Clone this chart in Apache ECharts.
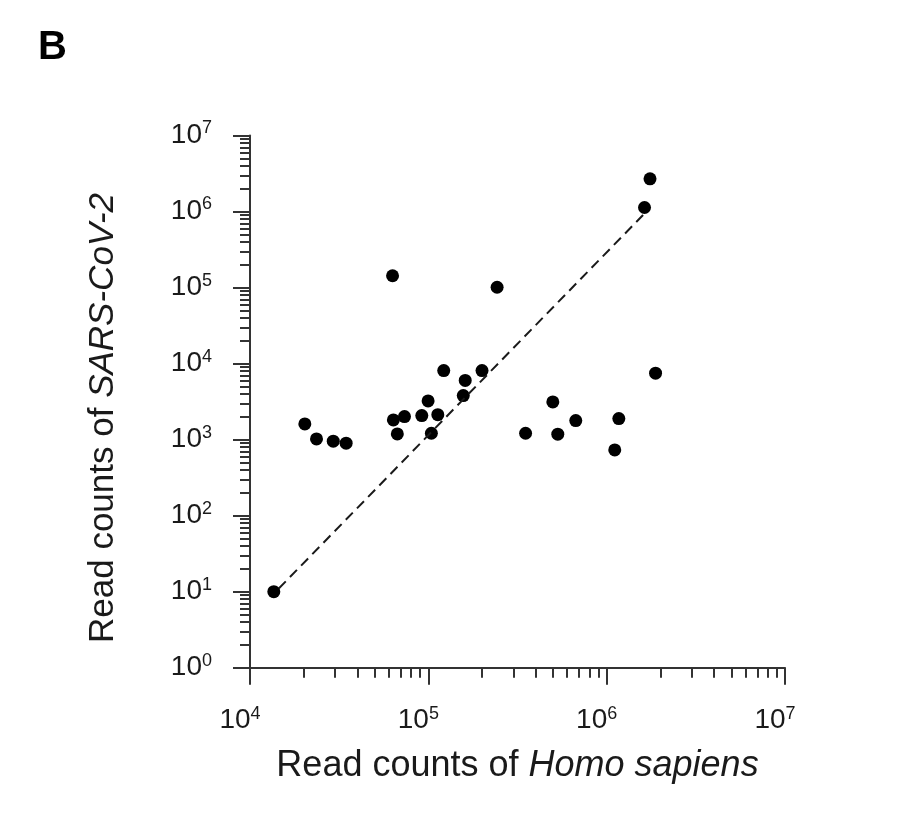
<!DOCTYPE html>
<html>
<head>
<meta charset="utf-8">
<script src="https://cdn.jsdelivr.net/npm/echarts@6/dist/echarts.min.js"></script>
<style>
  html, body { margin: 0; padding: 0; background: #fff; }
  #main { width: 900px; height: 830px; }
</style>
</head>
<body>
<div id="main"></div>
<script>
// read counts per sample (x: Homo sapiens, y: SARS-CoV-2)
const hsReads = [
  1.36e4, 2.03e4, 2.36e4, 2.93e4, 3.46e4, 6.37e4, 6.7e4, 7.35e4, 9.19e4,
  9.97e4, 1.13e5, 1.04e5, 1.57e5, 1.61e5, 1.22e5, 2.0e5, 6.3e4, 2.43e5,
  1.75e6, 1.63e6, 1.88e6, 4.99e5, 6.71e5, 1.17e6, 3.51e5, 5.32e5, 1.11e6
];
const covReads = [
  10, 1610, 1020, 953, 897, 1816, 1188, 2010, 2070,
  3230, 2130, 1213, 3790, 6000, 8090, 8090, 1.43e5, 1.01e5,
  2.69e6, 1.13e6, 7480, 3130, 1778, 1890, 1213, 1178, 732
];
// dashed trend line end points
const fitX = [1.45e4, 1.6e6];
const fitY = [11, 9.0e5];

const xDecades = [1e4, 1e5, 1e6, 1e7];
const yDecades = [1, 10, 1e2, 1e3, 1e4, 1e5, 1e6, 1e7];

function minorValues(decades) {
  const out = [];
  for (let i = 0; i < decades.length - 1; i++) {
    for (let k = 2; k <= 9; k++) out.push(decades[i] * k);
  }
  return out;
}

const labelRich = {
  b: { fontSize: 28, fontFamily: 'Liberation Sans', color: '#1a1a1a' },
  s: { fontSize: 18, fontFamily: 'Liberation Sans', color: '#1a1a1a', padding: [0, 0, 14, 0] }
};
const powLabel = v => '{b|10}{s|' + Math.round(Math.log10(v)) + '}';

const lineStyle = { color: '#333', width: 2 };

const chart = echarts.init(document.getElementById('main'));
chart.setOption({
  animation: false,
  grid: { left: 250, right: 115, top: 135.5, bottom: 162.3 },
  xAxis: [
    {
      type: 'log', min: 1e4, max: 1e7,
      axisLine: { lineStyle: lineStyle },
      axisTick: { customValues: xDecades, length: 17, lineStyle: lineStyle },
      axisLabel: { customValues: xDecades, formatter: powLabel, rich: labelRich, margin: 37, padding: [0, 20, 0, 0] },
      splitLine: { show: false }
    },
    {
      type: 'log', min: 1e4, max: 1e7, position: 'bottom',
      axisLine: { show: false },
      axisTick: { customValues: minorValues(xDecades), length: 10, lineStyle: lineStyle },
      axisLabel: { show: false },
      splitLine: { show: false }
    }
  ],
  yAxis: [
    {
      type: 'log', min: 1, max: 1e7,
      axisLine: { lineStyle: lineStyle },
      axisTick: { customValues: yDecades, length: 17, lineStyle: lineStyle },
      axisLabel: { customValues: yDecades, formatter: powLabel, rich: labelRich, margin: 38 },
      splitLine: { show: false }
    },
    {
      type: 'log', min: 1, max: 1e7, position: 'left',
      axisLine: { show: false },
      axisTick: { customValues: minorValues(yDecades), length: 10, lineStyle: lineStyle },
      axisLabel: { show: false },
      splitLine: { show: false }
    }
  ],
  series: [
    {
      type: 'line',
      data: fitX.map((x, i) => [x, fitY[i]]),
      symbol: 'none',
      lineStyle: { color: '#1a1a1a', width: 2, type: [10, 6] },
      silent: true
    },
    {
      type: 'scatter',
      data: hsReads.map((x, i) => [x, covReads[i]]),
      symbolSize: 13,
      itemStyle: { color: '#000', opacity: 1 }
    }
  ],
  graphic: [
    {
      type: 'text', x: 38, y: 47.5,
      style: { text: 'B', fontSize: 40, fontWeight: 'bold', fontFamily: 'Liberation Sans', fill: '#000', verticalAlign: 'middle' }
    },
    {
      type: 'text', x: 517.5, y: 766,
      style: {
        text: '{n|Read counts of }{i|Homo sapiens}',
        align: 'center', verticalAlign: 'middle',
        rich: {
          n: { fontSize: 36, fontFamily: 'Liberation Sans', fill: '#1a1a1a' },
          i: { fontSize: 36, fontFamily: 'Liberation Sans', fontStyle: 'italic', fill: '#1a1a1a' }
        }
      }
    },
    {
      type: 'text', x: 103, y: 418, rotation: Math.PI / 2,
      style: {
        text: '{n|Read counts of }{i|SARS-CoV-2}',
        align: 'center', verticalAlign: 'middle',
        rich: {
          n: { fontSize: 35, fontFamily: 'Liberation Sans', fill: '#1a1a1a' },
          i: { fontSize: 35, fontFamily: 'Liberation Sans', fontStyle: 'italic', fill: '#1a1a1a' }
        }
      }
    }
  ]
});
</script>
</body>
</html>
